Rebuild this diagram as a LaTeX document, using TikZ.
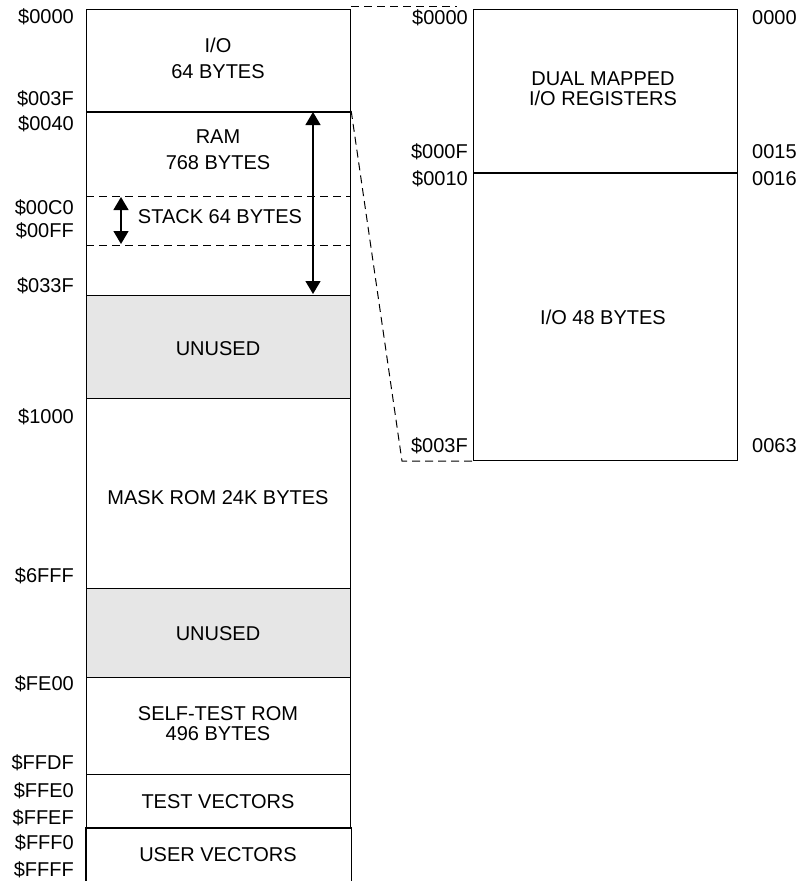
\documentclass[tikz,border=0pt]{standalone}
\usepackage{fontspec}
\setmainfont{Liberation Sans}
\usetikzlibrary{arrows.meta,positioning}
\definecolor{unusedgray}{HTML}{E6E6E6}

\begin{document}
\begin{tikzpicture}[
    x=1pt, y=-1pt,
    every node/.style={font=\fontsize{20}{20}\selectfont},
    region/.style={draw, line width=1.2pt, minimum width=264, inner sep=0pt, anchor=north west},
    unused/.style={region, fill=unusedgray},
    addr/.style={inner sep=0pt, text height=14.3pt, text depth=0pt},
    caption/.style={inner sep=0pt, align=center, text depth=0pt},
    split/.style={line width=2pt},
    stackline/.style={line width=0.9pt, dash pattern=on 8pt off 5pt},
    zoomline/.style={line width=1pt, dash pattern=on 8pt off 5pt},
    dimarrow/.style={line width=1.4pt, {Triangle[length=13pt,width=15pt]}-{Triangle[length=13pt,width=15pt]}}
]
    \useasboundingbox (0,0) rectangle (803,881);

    % left memory map
    \node[region, minimum height=102] (io) at (86,9) {};
    \node[region, minimum height=184] (ram) at (86,111) {};
    \node[unused, minimum height=103] (unused1) at (86,295) {};
    \node[region, minimum height=190] (mask) at (86,398) {};
    \node[unused, minimum height=89] (unused2) at (86,588) {};
    \node[region, minimum height=97] (selftest) at (86,677) {};
    \node[region, minimum height=54] (testvec) at (86,774) {};
    \node[region, draw=none, minimum height=53] (uservec) at (86,828) {};
    \draw[line width=1.2pt] (uservec.south west) -- (uservec.north west) -- (uservec.north east) -- (uservec.south east);
    \draw[split] (io.south west) -- (io.south east);
    \draw[stackline] (86,196) -- (350,196);
    \draw[stackline] (86,245) -- (350,245);

    \node[caption] (iotext) at (218,58) {I/O\\[6pt]64 BYTES};
    \node[caption] (ramtext) at (218,150) {RAM\\[6pt]768 BYTES};
    \node[addr] (stacktext) at (220,216) {STACK 64 BYTES};
    \node[addr] (unusedtext1) at (218,348) {UNUSED};
    \node[addr] (masktext) at (218,497) {MASK ROM 24K BYTES};
    \node[addr] (unusedtext2) at (218,633) {UNUSED};
    \node[caption] (selftesttext) at (218,724) {SELF-TEST ROM\\496 BYTES};
    \node[addr] (testvectext) at (218,801) {TEST VECTORS};
    \node[addr] (uservectext) at (218,854) {USER VECTORS};

    % addresses
    \foreach \name/\y/\txt in {a0000/16/0000, a003F/98/003F, a0040/123/0040, a00C0/207/00C0,
        a00FF/230/00FF, a033F/285/033F, a1000/416/1000, a6FFF/575/6FFF, aFE00/683/FE00,
        aFFDF/762/FFDF, aFFE0/790/FFE0, aFFEF/817/FFEF, aFFF0/842/FFF0, aFFFF/869/FFFF}
        \node[addr, anchor=east] (\name) at (74,\y) {\$\txt};

    % arrows
    \coordinate (ramtop) at (313,112);
    \coordinate (rambot) at (313,294);
    \coordinate (stacktop) at (121,197);
    \coordinate (stackbot) at (121,244);
    \draw[dimarrow] (ramtop) -- (rambot);
    \draw[dimarrow] (stacktop) -- (stackbot);

    % right detail of I/O
    \node[region, minimum height=163] (dual) at (473,9) {};
    \node[region, minimum height=288] (io48) at (473,172) {};
    \draw[split] (dual.south west) -- (dual.south east);
    \node[caption] (dualtext) at (603,89) {DUAL MAPPED\\I/O REGISTERS};
    \node[addr] (io48text) at (603,317) {I/O 48 BYTES};

    \node[addr, anchor=east] (r0000) at (468,17) {\$0000};
    \node[addr, anchor=east] (r000F) at (468,151) {\$000F};
    \node[addr, anchor=east] (r0010) at (468,178) {\$0010};
    \node[addr, anchor=east] (r003F) at (468,445) {\$003F};
    \node[addr, anchor=west] (d0000) at (752,17) {0000};
    \node[addr, anchor=west] (d0015) at (752,151) {0015};
    \node[addr, anchor=west] (d0016) at (752,178) {0016};
    \node[addr, anchor=west] (d0063) at (752,445) {0063};

    % zoom lines
    \draw[zoomline] ([yshift=3pt]io.north east) -- ([xshift=-16pt,yshift=3pt]dual.north west);
    \draw[zoomline] (ram.north east) -- ([xshift=-71pt]io48.south west) -- (io48.south west);
\end{tikzpicture}
\end{document}
